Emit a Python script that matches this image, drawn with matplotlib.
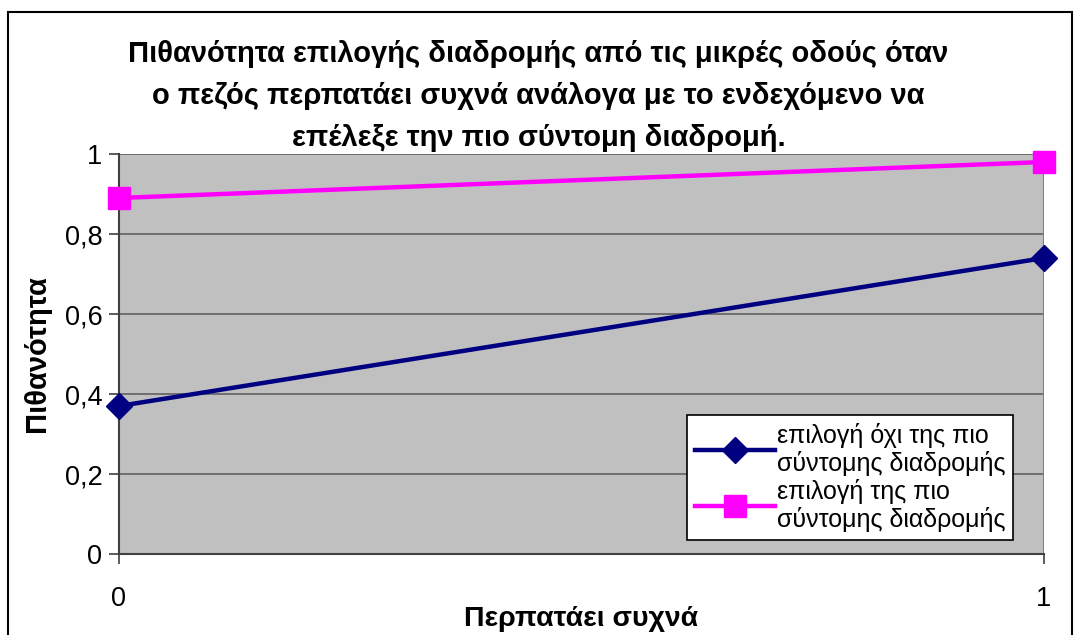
import matplotlib
matplotlib.use("Agg")
import matplotlib.pyplot as plt
from matplotlib.patches import Rectangle
from matplotlib.ticker import FuncFormatter

plt.rcParams['font.family'] = ['Liberation Sans', 'DejaVu Sans']

x_vals = [0, 1]
not_shortest = [0.37, 0.74]
shortest = [0.89, 0.98]
series_labels = ['επιλογή όχι της πιο\nσύντομης διαδρομής',
                 'επιλογή της πιο\nσύντομης διαδρομής']
title = ('Πιθανότητα επιλογής διαδρομής από τις μικρές οδούς όταν\n'
         'ο πεζός περπατάει συχνά ανάλογα με το ενδεχόμενο να\n'
         'επέλεξε την πιο σύντομη διαδρομή.')
y_ticks = [0, 0.2, 0.4, 0.6, 0.8, 1.0]

fig = plt.figure(figsize=(10.77, 6.35), dpi=100)
W, H = 1077, 635
left, right, top, bottom = 119, 1044, 154, 554
ax = fig.add_axes([left / W, 1 - bottom / H, (right - left) / W, (bottom - top) / H])
ax.set_facecolor('#C0C0C0')

ax.plot(x_vals, not_shortest, color='#000080', lw=3.2, marker='D', markersize=13,
        label=series_labels[0], clip_on=False, zorder=4)
ax.plot(x_vals, shortest, color='#FF00FF', lw=3.2, marker='s', markersize=16,
        label=series_labels[1], clip_on=False, zorder=4)

ax.set_xlim(0, 1)
ax.set_ylim(0, 1)
ax.set_xticks([0, 1])
ax.set_yticks(y_ticks)
ax.yaxis.set_major_formatter(FuncFormatter(lambda v, p: ('%g' % v).replace('.', ',')))
ax.grid(axis='y', color='#606060', lw=1.2, zorder=1)
ax.set_axisbelow(True)
for s in ['top', 'right']:
    ax.spines[s].set_visible(False)
ax.spines['left'].set_color('#404040')
ax.spines['bottom'].set_color('#404040')
ax.spines['left'].set_linewidth(1.5)
ax.spines['bottom'].set_linewidth(1.5)
ax.plot([1, 1], [0, 1], color='#808080', lw=1.5, zorder=2)
ax.tick_params(axis='both', direction='out', length=7, width=1.2, color='#404040',
               labelsize=19.5)
ax.tick_params(axis='y', pad=5)
ax.tick_params(axis='x', pad=16)

ax.set_ylabel('Πιθανότητα', fontsize=21, fontweight='bold', labelpad=10)
ax.set_xlabel('Περπατάει συχνά', fontsize=20.5, fontweight='bold', labelpad=-4)

fig.text(0.5, 1 - 96 / H, title, ha='center', va='center', fontsize=21,
         fontweight='bold', linespacing=1.62)

leg = ax.legend(loc='lower right', bbox_to_anchor=((1013 - left) / (right - left), (554 - 540) / 400),
                fontsize=18, frameon=True, fancybox=False, edgecolor='black',
                facecolor='white', framealpha=1, handlelength=3.2, borderpad=0.3,
                labelspacing=0.08, handletextpad=0.1, borderaxespad=0)
leg.get_frame().set_linewidth(1.2)

fig.patches.append(Rectangle((8 / W, -0.05), (1072 - 8) / W, 1.05 - 12 / H,
                             transform=fig.transFigure, fill=False,
                             edgecolor='black', lw=1.5))

fig.savefig('out.png', dpi=100)
